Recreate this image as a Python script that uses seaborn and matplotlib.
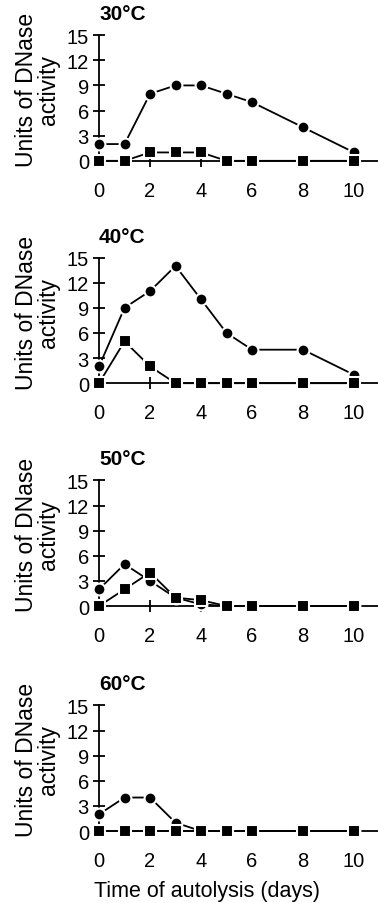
import pandas as pd
import matplotlib
matplotlib.use("Agg")
import matplotlib.pyplot as plt
import seaborn as sns

# Jours d'autolyse et activité DNase
days = [0, 1, 2, 3, 4, 5, 6, 8, 10]
temps = ["30°C", "40°C", "50°C", "60°C"]

circles_30 = [2, 2, 8, 9, 9, 8, 7, 4, 1]
squares_30 = [0, 0, 1, 1, 1, 0, 0, 0, 0]
circles_40 = [2, 9, 11, 14, 10, 6, 4, 4, 1]
squares_40 = [0, 5, 2, 0, 0, 0, 0, 0, 0]
circles_50 = [2, 5, 3, 1, 0.2, 0, 0, 0, 0]
squares_50 = [0, 2, 4, 1, 0.7, 0, 0, 0, 0]
circles_60 = [2, 4, 4, 1, 0, 0, 0, 0, 0]
squares_60 = [0, 0, 0, 0, 0, 0, 0, 0, 0]

series = {
    "30°C": (circles_30, squares_30),
    "40°C": (circles_40, squares_40),
    "50°C": (circles_50, squares_50),
    "60°C": (circles_60, squares_60),
}

yticks = [0, 3, 6, 9, 12, 15]
xticks = [0, 2, 4, 6, 8, 10]

sns.set_style("white")
plt.rcParams["font.family"] = ["Liberation Sans", "DejaVu Sans"]
plt.rcParams["text.color"] = "black"
plt.rcParams["axes.labelcolor"] = "black"
plt.rcParams["xtick.color"] = "black"
plt.rcParams["ytick.color"] = "black"

fig = plt.figure(figsize=(3.78, 9.04), dpi=100)

# position des panneaux (bas, hauteur) en fraction de figure
bottoms = [0.821, 0.575, 0.3285, 0.0796]
height = 0.139

for temp, bottom in zip(temps, bottoms):
    circ, sq = series[temp]
    df = pd.DataFrame({
        "day": days + days,
        "units": circ + sq,
        "kind": ["circle"] * len(days) + ["square"] * len(days),
    })
    ax = fig.add_axes([0.262, bottom, 0.738, height])
    sns.lineplot(data=df, x="day", y="units", style="kind",
                 markers={"circle": "o", "square": "s"}, dashes=False,
                 color="black", markersize=8.5, markeredgewidth=1.5,
                 markeredgecolor="white", linewidth=1.3, legend=False,
                 clip_on=False, zorder=3, ax=ax)
    ax.set_xlim(0, 10.94)
    ax.set_ylim(0, 15)
    ax.set_xticks(xticks)
    ax.set_yticks(yticks)
    for s in ["top", "right"]:
        ax.spines[s].set_visible(False)
    for s in ["left", "bottom"]:
        ax.spines[s].set_color("black")
        ax.spines[s].set_linewidth(1.3)
    ax.tick_params(axis="both", direction="inout", length=8.6, width=1.3,
                   labelsize=14.5, color="black", bottom=True, left=True)
    ax.tick_params(axis="y", pad=3)
    ax.tick_params(axis="x", pad=10)
    ax.set_xlabel("")
    ax.set_ylabel("Units of DNase\nactivity", fontsize=16.5, linespacing=0.95)
    ax.yaxis.set_label_coords(-0.14, 0.57)
    ax.set_title(temp, loc="left", fontsize=15, fontweight="bold", pad=11.5)

fig.text(0.548, 0.002, "Time of autolysis (days)", ha="center", va="bottom",
         fontsize=15.5)

fig.savefig("out.png", dpi=100)
